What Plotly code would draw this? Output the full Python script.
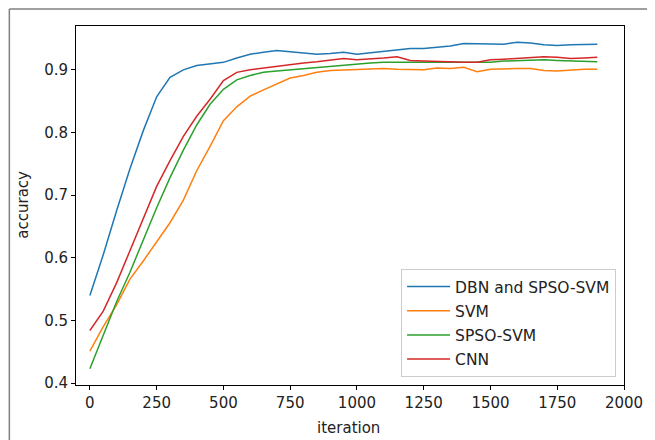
import plotly.graph_objects as go

iterations = [0, 50, 100, 150, 200, 250, 300, 350, 400, 450, 500, 550, 600, 650, 700, 750, 800,
              850, 900, 950, 1000, 1050, 1100, 1150, 1200, 1250, 1300, 1350, 1400, 1450, 1500,
              1550, 1600, 1650, 1700, 1750, 1800, 1850, 1900]

dbn_spso_svm = [0.540, 0.605, 0.675, 0.742, 0.803, 0.857, 0.888, 0.900, 0.907, 0.910, 0.912, 0.919,
                0.925, 0.928, 0.931, 0.929, 0.927, 0.925, 0.926, 0.928, 0.925, 0.927, 0.929, 0.932,
                0.934, 0.934, 0.936, 0.938, 0.942, 0.942, 0.941, 0.941, 0.944, 0.943, 0.940, 0.939,
                0.940, 0.941, 0.941]

svm = [0.451, 0.490, 0.525, 0.566, 0.595, 0.626, 0.656, 0.692, 0.739, 0.778, 0.819, 0.841, 0.858,
       0.868, 0.878, 0.887, 0.891, 0.896, 0.899, 0.900, 0.900, 0.901, 0.902, 0.901, 0.901, 0.900,
       0.903, 0.902, 0.904, 0.897, 0.901, 0.902, 0.902, 0.902, 0.899, 0.898, 0.900, 0.901, 0.901]

spso_svm = [0.423, 0.477, 0.530, 0.577, 0.629, 0.680, 0.728, 0.772, 0.812, 0.845, 0.869, 0.884,
            0.891, 0.896, 0.898, 0.900, 0.902, 0.904, 0.906, 0.908, 0.909, 0.911, 0.912, 0.912,
            0.912, 0.911, 0.911, 0.911, 0.911, 0.911, 0.912, 0.914, 0.915, 0.916, 0.916, 0.915,
            0.914, 0.913, 0.913]

cnn = [0.484, 0.515, 0.560, 0.612, 0.665, 0.714, 0.755, 0.794, 0.826, 0.853, 0.883, 0.896, 0.900,
       0.903, 0.906, 0.909, 0.911, 0.913, 0.916, 0.918, 0.916, 0.917, 0.919, 0.921, 0.915, 0.914,
       0.913, 0.913, 0.912, 0.912, 0.916, 0.917, 0.918, 0.920, 0.921, 0.920, 0.918, 0.919, 0.920]

series = [
    ("DBN and SPSO-SVM", dbn_spso_svm, "#1f77b4"),
    ("SVM", svm, "#ff7f0e"),
    ("SPSO-SVM", spso_svm, "#2ca02c"),
    ("CNN", cnn, "#d62728"),
]

x_ticks = [0, 250, 500, 750, 1000, 1250, 1500, 1750, 2000]
y_ticks = [0.4, 0.5, 0.6, 0.7, 0.8, 0.9]

FONT = "DejaVu Sans"
OFF = 8  # page body margin offsets the figure by 8px
W, H = 655 - OFF, 440 - OFF
L, T = 76 - OFF, 26 - OFF
R, B = W - (631 - OFF), H - (385 - OFF)
pw, ph = W - L - R, H - T - B


def px(xr):
    return (xr - OFF - L) / pw


def py(yr):
    return (H - B - (yr - OFF)) / ph


fig = go.Figure()
for i, (name, vals, color) in enumerate(series):
    fig.add_trace(go.Scatter(x=iterations, y=vals, mode="lines", name=name,
                             legendgroup=f"g{i}",
                             line=dict(color=color, width=1.5)))

axis_common = dict(showline=True, linecolor="black", linewidth=1, mirror=True,
                   ticks="outside", ticklen=4, tickcolor="black", showgrid=False,
                   zeroline=False, tickfont=dict(family=FONT, size=15, color="#222"))

fig.update_layout(
    width=W, height=H,
    margin=dict(l=L, r=R, t=T, b=B),
    paper_bgcolor="white", plot_bgcolor="white",
    font=dict(family=FONT, size=15, color="#222"),
    xaxis=dict(range=[-52, 2000], tickvals=x_ticks, ticktext=[str(v) for v in x_ticks], **axis_common),
    yaxis=dict(range=[0.397, 0.970], tickvals=y_ticks, ticktext=[f"{v:.1f}" for v in y_ticks], **axis_common),
    legend=dict(x=px(623), y=py(377), xanchor="right", yanchor="bottom",
                bgcolor="rgba(255,255,255,0.85)", bordercolor="#cccccc", borderwidth=1,
                font=dict(family=FONT, size=15.5, color="#222"), tracegroupgap=1,
                itemwidth=43),
    showlegend=True,
)

fig.add_annotation(text="accuracy", xref="paper", yref="paper",
                   x=px(22), y=py(205), textangle=-90, xanchor="center", yanchor="middle",
                   showarrow=False, font=dict(family=FONT, size=15, color="#222"))
fig.add_annotation(text="iteration", xref="paper", yref="paper",
                   x=px(352), y=py(428), xanchor="center", yanchor="middle",
                   showarrow=False, font=dict(family=FONT, size=15, color="#222"))

# outer figure frame (top and left gray border)
fig.add_shape(type="line", xref="paper", yref="paper",
              x0=px(8.5), x1=px(655), y0=py(9), y1=py(9),
              line=dict(color="#808080", width=1.5))
fig.add_shape(type="line", xref="paper", yref="paper",
              x0=px(8.5), x1=px(8.5), y0=py(9), y1=py(440),
              line=dict(color="#808080", width=1.5))

fig.write_html("out.html")
